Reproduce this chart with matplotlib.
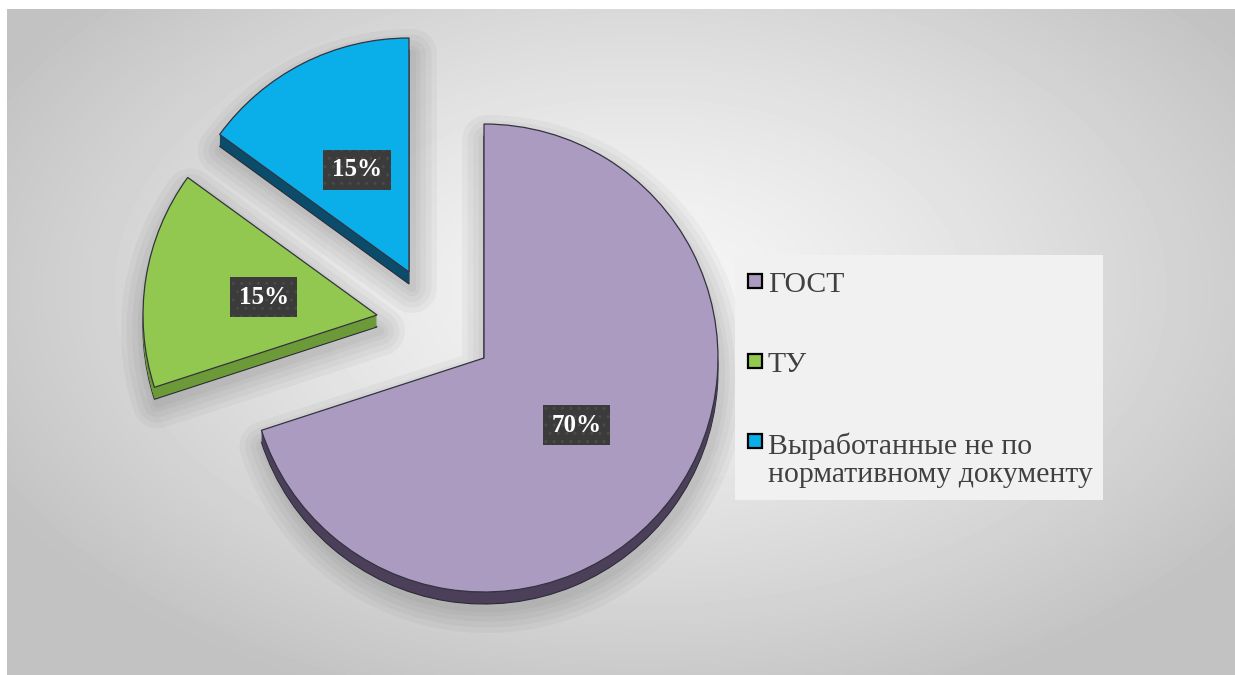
import numpy as np
import matplotlib
matplotlib.use("Agg")
from matplotlib import pyplot as plt
from matplotlib import patheffects as pe
from matplotlib.patches import Rectangle

# data
labels = ["ГОСТ", "ТУ", "Выработанные не по\nнормативному документу"]
values = [70, 15, 15]
pct_labels = ["70%", "15%", "15%"]

top_colors = ["#ab9bc1", "#92c850", "#0aaee8"]
side_colors = ["#4b3f5a", "#6c9a38", "#0b4c6a"]

W, H = 1235, 675
FONT = ["Liberation Serif", "DejaVu Serif"]


def py(y):
    # pixel row -> data y (axis goes up)
    return H - y


fig = plt.figure(figsize=(W / 100, H / 100), dpi=100, facecolor="white")
ax = fig.add_axes([0, 0, 1, 1])

# soft radial background
xx, yy = np.meshgrid(np.arange(7, W), np.arange(9, H))
d = np.sqrt(((xx - 640) / 720.0) ** 2 + ((yy - 290) / 430.0) ** 2)
bg = np.clip(0.965 - 0.2 * d ** 1.3, 0.76, 1)
ax.imshow(bg, cmap="gray", vmin=0, vmax=1, extent=[7, W, 0, py(9)],
          origin="upper", zorder=0, interpolation="bilinear")

# pie geometry
cx, cy = 484, py(358)
R = 234
depth = 12
# slice shifts (explode), in pixels
shifts = [(0, 0), (-107, 43), (-75, 86)]


def draw_pie(dx, dy, colors, z, **kw):
    wedges, _ = ax.pie(values, colors=colors, startangle=90, counterclock=False,
                       radius=R, center=(cx + dx, cy + dy), frame=True, **kw)
    for w, (sx, sy) in zip(wedges, shifts):
        c = w.center
        w.set_center((c[0] + sx, c[1] + sy))
        w.set_zorder(z)
    return wedges

# blurred shadow
shadow = draw_pie(3, -depth - 4, ["none"] * 3, 1,
                  wedgeprops=dict(linewidth=0))
for w in shadow:
    w.set_path_effects([pe.Stroke(linewidth=lw, foreground="black", alpha=0.03,
                                  joinstyle="round")
                        for lw in (36, 28, 20, 12, 6)])

# extruded side
for k in range(depth, 0, -1):
    draw_pie(0, -k, side_colors, 2,
             wedgeprops=dict(linewidth=0.8 if k == depth else 0,
                             edgecolor="#2a2a35"))

top = draw_pie(0, 0, top_colors, 3,
               wedgeprops=dict(linewidth=0.9, edgecolor="#333340"))

# percentage labels
for w, txt in zip(top, pct_labels):
    mid = np.radians((w.theta1 + w.theta2) / 2)
    x0, y0 = w.center
    ax.text(x0 + 0.49 * R * np.cos(mid), y0 + 0.49 * R * np.sin(mid), txt,
            ha="center", va="center", color="white", fontsize=18,
            fontweight="bold", family=FONT, zorder=6,
            bbox=dict(boxstyle="square,pad=0.34", facecolor="#3b3b3b",
                      edgecolor="#4a4a4a", linewidth=0, hatch=".."))

# legend
ax.add_patch(Rectangle((735, py(500)), 368, 245, facecolor="#f1f1f1",
                       edgecolor="none", zorder=4))
row_y = [280.5, 360.5, 440.5]
line_step = 31
for lab, col, ry in zip(labels, top_colors, row_y):
    ax.add_patch(Rectangle((748, py(ry) - 7), 14, 14, facecolor=col,
                           edgecolor="black", linewidth=1.6, zorder=5))
    # baseline of the last line
    nl = lab.count("\n")
    ax.text(768, py(ry + 11 + nl * line_step), lab, ha="left", va="baseline",
            fontsize=21.4, color="#404040", family=FONT, linespacing=1.12,
            zorder=5)

ax.set_xlim(0, W)
ax.set_ylim(0, H)
ax.set_aspect("auto")
ax.set_axis_off()

fig.savefig("out.png", dpi=100, facecolor="white")
